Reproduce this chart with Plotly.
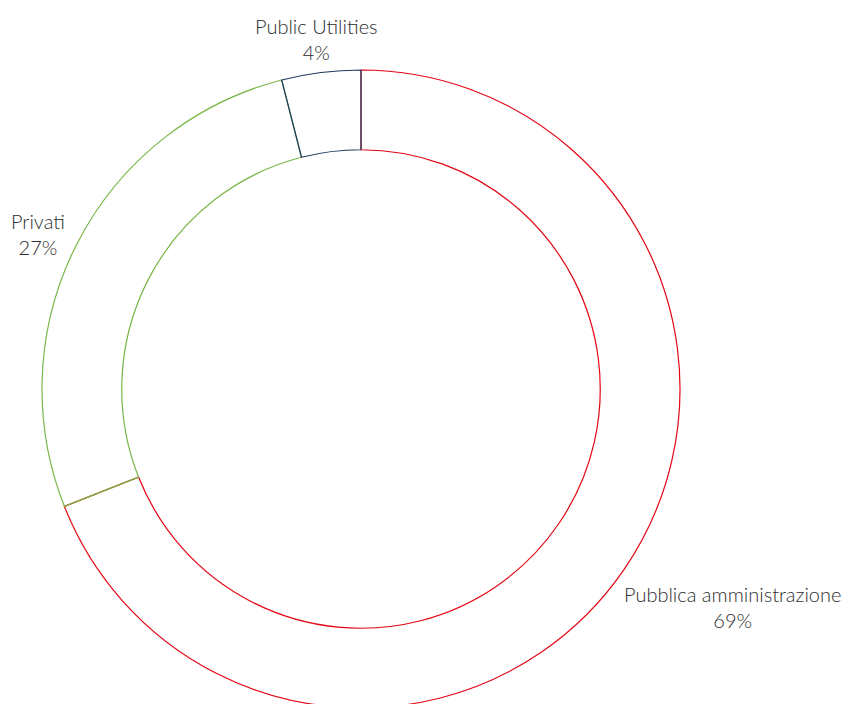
import plotly.graph_objects as go

# Ripartizione per tipologia di cliente
categories = ["Pubblica amministrazione", "Privati", "Public Utilities"]
shares = [69, 27, 4]
colors = ["#e30613", "#7ab648", "#1f3a5f"]

W, H = 843, 712

# Posizioni delle etichette (coordinate paper)
label_pos = {
    "Pubblica amministrazione": (732 / W, 1 - 607 / H),
    "Privati": (38 / W, 1 - 234 / H),
    "Public Utilities": (316 / W, 1 - 39 / H),
}

fig = go.Figure(
    go.Pie(
        labels=categories,
        values=shares,
        hole=0.75,
        sort=False,
        direction="clockwise",
        rotation=0,
        textinfo="none",
        hoverinfo="label+percent",
        marker=dict(
            colors=["rgba(255,255,255,0)"] * len(categories),
            line=dict(color=colors, width=1.2),
        ),
        domain=dict(x=[42 / W, 680 / W], y=[(H - 708) / H, (H - 70) / H]),
        showlegend=False,
    )
)

for cat, val in zip(categories, shares):
    x, y = label_pos[cat]
    fig.add_annotation(
        x=x, y=y, xref="paper", yref="paper",
        text=f"{cat}<br>{val}%",
        showarrow=False,
        xanchor="center", yanchor="middle",
        align="center",
        font=dict(family="Lato", size=20, color="#2e2e2e", weight=300),
    )

fig.update_layout(
    width=W, height=H,
    margin=dict(l=0, r=0, t=0, b=0),
    paper_bgcolor="white",
    plot_bgcolor="white",
)

fig.write_html("out.html", post_script="document.body.style.overflow='hidden';document.documentElement.style.overflow='hidden';")
